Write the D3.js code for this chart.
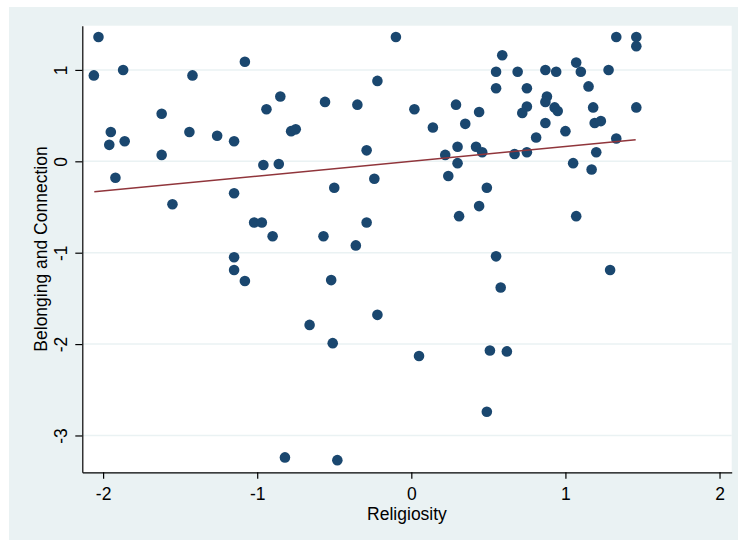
<!DOCTYPE html>
<html>
<head>
<meta charset="utf-8">
<script src="https://cdn.jsdelivr.net/npm/d3@7"></script>
<style>
  body { margin: 0; background: #fff; }
  text { font-family: "Liberation Sans", Arial, sans-serif; }
</style>
</head>
<body>
<div id="scatter"></div>
<script>
// values
const religiosity = [
  -2.03, -2.06, -1.87, -1.42, -1.08, -1.62, -1.95, -1.96, -1.86, -1.44,
  -1.26, -1.15, -1.62, -1.92, -1.15, -1.55, -1.15, -1.15, -1.08, -1.02,
  -0.97, -0.90, -0.94, -0.85, -0.96, -0.86, -0.78, -0.75, -0.56, -0.50,
  -0.57, -0.52, -0.66, -0.51, -0.82, -0.48, -0.35, -0.29, -0.24, -0.29,
  -0.36, -0.22, -0.22, -0.10, 0.02, 0.05, 0.14, 0.22, 0.24, 0.29,
  0.30, 0.30, 0.31, 0.35, 0.42, 0.44, 0.46, 0.44, 0.49, 0.49,
  0.51, 0.55, 0.58, 0.62, 0.55, 0.55, 0.59, 0.69, 0.75, 0.75,
  0.72, 0.67, 0.75, 0.81, 0.87, 0.88, 0.87, 0.93, 0.95, 0.87,
  0.94, 1.00, 1.05, 1.07, 1.10, 1.07, 1.15, 1.17, 1.18, 1.19,
  1.23, 1.20, 1.28, 1.29, 1.33, 1.33, 1.46, 1.46, 1.46
];
const belonging = [
  1.36, 0.94, 1.00, 0.94, 1.09, 0.52, 0.32, 0.18, 0.22, 0.32,
  0.28, 0.22, 0.07, -0.18, -0.35, -0.47, -1.05, -1.19, -1.31, -0.67,
  -0.67, -0.82, 0.57, 0.71, -0.04, -0.03, 0.33, 0.35, 0.65, -0.29,
  -0.82, -1.30, -1.79, -1.99, -3.24, -3.27, 0.62, 0.12, -0.19, -0.67,
  -0.92, 0.88, -1.68, 1.36, 0.57, -2.13, 0.37, 0.07, -0.16, 0.62,
  0.16, -0.02, -0.60, 0.41, 0.16, 0.54, 0.10, -0.49, -0.29, -2.74,
  -2.07, -1.04, -1.38, -2.08, 0.98, 0.80, 1.16, 0.98, 0.80, 0.60,
  0.53, 0.08, 0.10, 0.26, 1.00, 0.71, 0.65, 0.59, 0.55, 0.42,
  0.98, 0.33, -0.02, 1.08, 0.98, -0.60, 0.82, -0.09, 0.59, 0.42,
  0.44, 0.10, 1.00, -1.19, 1.36, 0.25, 1.36, 1.26, 0.59
];
// fitted line end points
const fitX = [-2.057, 1.456];
const fitY = [-0.333, 0.237];

const xTicks = [-2, -1, 0, 1, 2];
const yTicks = [-3, -2, -1, 0, 1];

const points = religiosity.map((d, i) => ({x: d, y: belonging[i]}));
const fit = fitX.map((d, i) => ({x: d, y: fitY[i]}));

const fullWidth = 738;
const fullHeight = 540;
const margin = {top: 25.7, right: 6.3, bottom: 67.7, left: 82.3};
const width = fullWidth - margin.left - margin.right;
const height = fullHeight - margin.top - margin.bottom;
const fontSize = '17.5px';

const xScale = d3.scaleLinear()
                  .domain([-2.135, 2.079])
                  .range([0, width]);

const yScale = d3.scaleLinear()
                  .domain([-3.403, 1.484])
                  .range([height, 0]);

// plain hyphen, like the original
const tickFmt = d => String(d);

const root = d3.select('#scatter')
              .append('svg')
              .attr('width', fullWidth)
              .attr('height', fullHeight);

// outer graph region
root.append('rect')
    .attr('x', 9)
    .attr('y', 7)
    .attr('width', fullWidth - 9)
    .attr('height', fullHeight - 7)
    .attr('fill', '#eaf2f3');

const svg = root.append('g')
                .attr('transform', 'translate(' + margin.left + ',' + margin.top + ')');

svg.append('rect')
    .attr('width', width)
    .attr('height', height)
    .attr('fill', '#fff');

// horizontal grid
svg.selectAll('.grid')
  .data(yTicks)
  .enter().append('line')
    .attr('class', 'grid')
    .attr('x1', 0)
    .attr('x2', width)
    .attr('y1', d => yScale(d))
    .attr('y2', d => yScale(d))
    .attr('stroke', '#eaf2f3')
    .attr('stroke-width', 1.5);

svg.append('g')
    .attr('class', 'x axis')
    .attr('transform', 'translate(0,' + height + ')')
    .call(d3.axisBottom(xScale).tickValues(xTicks).tickFormat(tickFmt)
            .tickSize(6.5).tickSizeOuter(0).tickPadding(8.3));

const yAxis = svg.append('g')
    .attr('class', 'y axis')
    .call(d3.axisLeft(yScale).tickValues(yTicks).tickFormat(tickFmt)
            .tickSize(7).tickSizeOuter(0));

yAxis.selectAll('.tick text')
    .attr('transform', 'rotate(-90)')
    .attr('x', 0)
    .attr('y', -15.6)
    .attr('dy', 0)
    .attr('text-anchor', 'middle');

svg.selectAll('.axis text')
    .attr('font-size', fontSize)
    .attr('font-family', '"Liberation Sans", Arial, sans-serif')
    .attr('fill', '#000');

svg.selectAll('.axis path, .axis line')
    .attr('stroke', '#000')
    .attr('stroke-width', 1.2);

const line = d3.line()
                .x(d => xScale(d.x))
                .y(d => yScale(d.y));

svg.selectAll('.dot')
  .data(points)
  .enter().append('circle')
    .attr('class', 'dot')
    .attr('cx', d => xScale(d.x))
    .attr('cy', d => yScale(d.y))
    .attr('r', 5.3)
    .attr('fill', '#1a476f');

svg.append('path')
    .datum(fit)
    .attr('fill', 'none')
    .attr('stroke', '#90353b')
    .attr('stroke-width', 1.5)
    .attr('d', line);

// axis titles
svg.append('text')
    .attr('x', width / 2)
    .attr('y', height + 47.7)
    .attr('text-anchor', 'middle')
    .attr('font-size', fontSize)
    .text('Religiosity');

svg.append('text')
    .attr('transform', 'rotate(-90)')
    .attr('x', -height / 2)
    .attr('y', 46.7 - margin.left)
    .attr('text-anchor', 'middle')
    .attr('font-size', fontSize)
    .text('Belonging and Connection');
</script>
</body>
</html>
